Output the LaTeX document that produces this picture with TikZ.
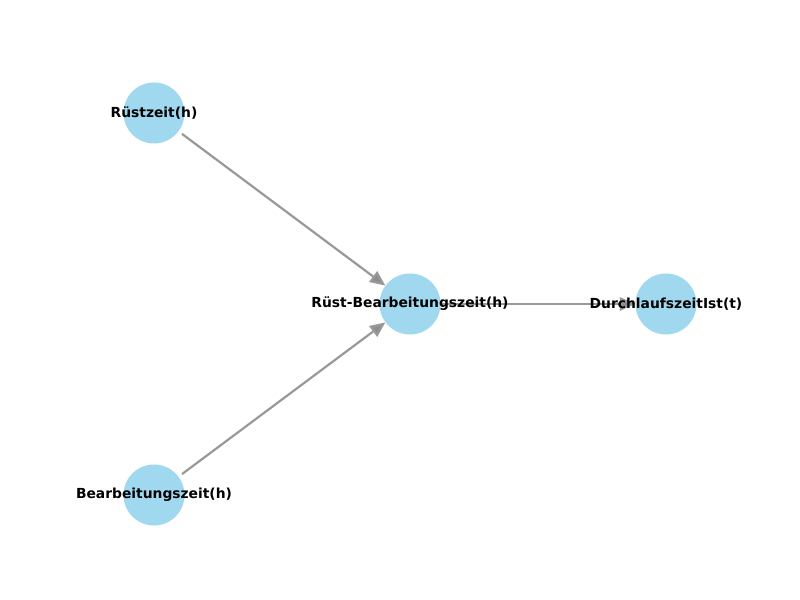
\documentclass[tikz,border=0pt]{standalone}
\usepackage{fontspec}
\setmainfont{DejaVu Sans}
\usepackage{xcolor}
\usepackage{tikz}
\usetikzlibrary{arrows.meta,backgrounds}
\definecolor{skyfill}{HTML}{9FD8EF}
\definecolor{edgegray}{HTML}{999999}
\definecolor{tipgray}{HTML}{8C8C8C}
\tikzset{
  varnode/.style={
    circle, fill=skyfill, draw=none,
    minimum size=0.61in, inner sep=0pt,
    label={[varlabel]center:#1}
  },
  varlabel/.style={
    font=\normalsize\bfseries, text=black, inner sep=0pt
  },
  flowarrow/.style={
    -{Triangle[length=11pt,width=9.5pt,fill=tipgray]},
    line width=1.6pt, draw=edgegray
  },
}

\begin{document}
\begin{tikzpicture}[x=0.01in, y=0.01in]
  \useasboundingbox (0,0) rectangle (800,600);

  \node[varnode={Rüstzeit(h)}] (ruest) at (154,487) {};
  \node[varnode={Bearbeitungszeit(h)}] (bearb) at (154,105) {};
  \node[varnode={Rüst-Bearbeitungszeit(h)}] (rbz) at (410,296) {};
  \node[varnode={DurchlaufszeitIst(t)}] (dlz) at (666,296) {};

  % edges behind the labels
  \begin{scope}[on background layer]
    \draw[flowarrow, shorten <=3pt] (ruest) -- (rbz);
    \draw[flowarrow, shorten <=3pt] (bearb) -- (rbz);
    \draw[flowarrow] (rbz) -- (dlz);
  \end{scope}
\end{tikzpicture}
\end{document}
